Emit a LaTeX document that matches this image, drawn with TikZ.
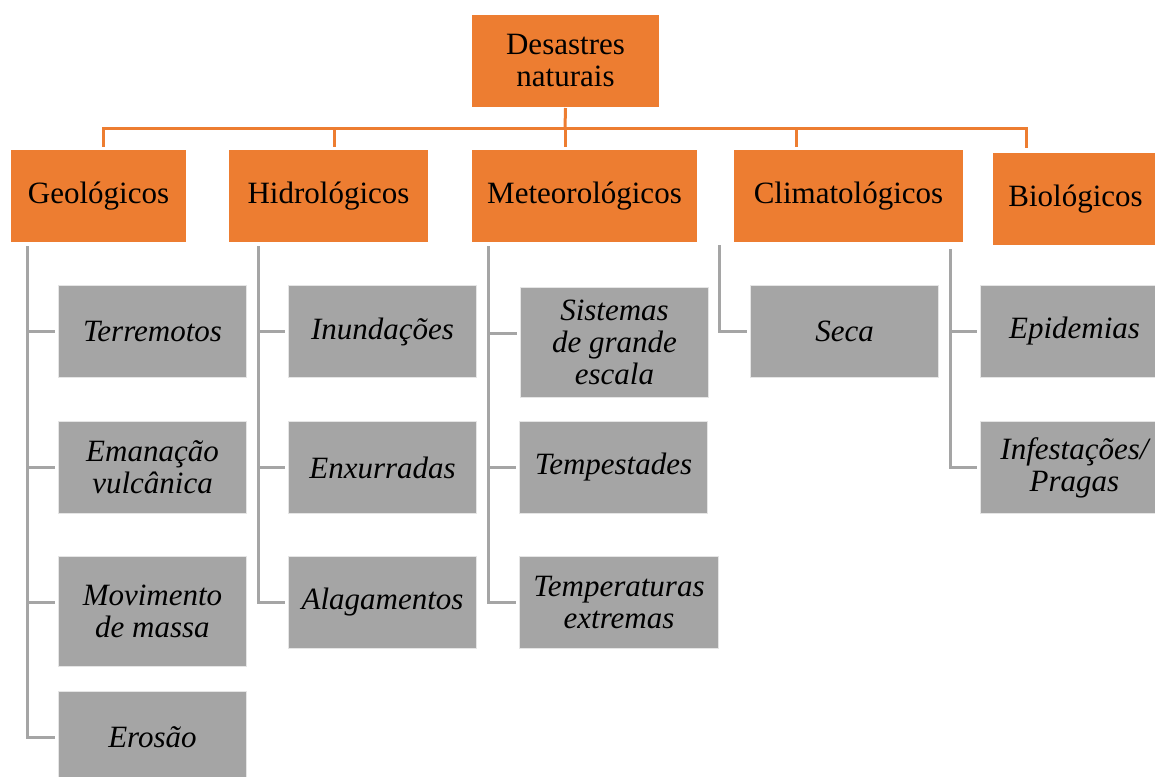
\documentclass[tikz,border=0pt]{standalone}
\usepackage{fontspec}
\setmainfont{Liberation Serif}
\usetikzlibrary{positioning}

\definecolor{officeOrange}{HTML}{ED7D31}
\definecolor{officeGray}{HTML}{A5A5A5}

\begin{document}
\begin{tikzpicture}[
    x=1pt, y=-1pt,
    font=\fontsize{31pt}{32pt}\selectfont,
    catBox/.style={
        rectangle,
        draw=white,
        line width=1pt,
        fill=officeOrange,
        anchor=north west,
        align=center,
        inner sep=0pt,
        minimum height=93pt
    },
    itemBox/.style={
        rectangle,
        draw=white!90!black,
        line width=1pt,
        fill=officeGray,
        anchor=north west,
        align=center,
        inner sep=0pt,
        minimum width=188pt,
        minimum height=92pt,
        font=\fontsize{31pt}{32pt}\selectfont\itshape
    },
    busLine/.style={
        draw=officeOrange,
        line width=3pt
    },
    railLine/.style={
        draw=officeGray,
        line width=3pt
    }
]
\useasboundingbox (0,0) rectangle (1155,776);

% ==================== ROOT AND CATEGORIES ====================
\node[catBox, minimum width=188pt] (root) at (471,14) {Desastres\\naturais};

\node[catBox, minimum width=176pt] (geo) at (10,149) {Geológicos};
\node[catBox, minimum width=200pt] (hidro) at (228,149) {Hidrológicos};
\node[catBox, minimum width=226pt] (meteo) at (471,149) {Meteorológicos};
\node[catBox, minimum width=230pt] (clim) at (733,149) {Climatológicos};
\node[catBox, minimum width=166pt] (bio) at (992,152) {Biológicos};

% Orange bus
\coordinate (bus) at (565,128);
\draw[busLine] (root.south) -- (bus);
\draw[busLine] (bus) -| ([xshift=93pt,yshift=2pt]geo.north west);
\draw[busLine] (bus) -| ([xshift=106pt,yshift=2pt]hidro.north west);
\draw[busLine] (bus) -- ([xshift=94pt,yshift=2pt]meteo.north west);
\draw[busLine] (bus) -| ([xshift=63pt,yshift=2pt]clim.north west);
\draw[busLine] (bus) -| ([xshift=34pt,yshift=4pt]bio.north west);

% ==================== SUBTYPES ====================
\node[itemBox] (terr) at (58,285) {Terremotos};
\node[itemBox] (eman) at (58,421) {Emanação\\vulcânica};
\node[itemBox, minimum height=110pt] (movi) at (58,556) {Movimento\\de massa};
\node[itemBox] (eros) at (58,691) {Erosão};

\node[itemBox] (inun) at (288,285) {Inundações};
\node[itemBox] (enxu) at (288,421) {Enxurradas};
\node[itemBox] (alag) at (288,556) {Alagamentos};

\node[itemBox, minimum height=110pt] (sist) at (520,287) {Sistemas\\de grande\\escala};
\node[itemBox] (temp) at (519,421) {Tempestades};
\node[itemBox, minimum width=199pt] (tmpx) at (519,556) {Temperaturas\\extremas};

\node[itemBox] (seca) at (750,285) {Seca};

\node[itemBox] (epid) at (980,285) {Epidemias};
\node[itemBox] (infe) at (980,421) {Infestações/\\Pragas};

% Gray rails
\coordinate (geoRail) at ([xshift=17pt,yshift=-3pt]geo.south west);
\coordinate (hidroRail) at ([xshift=30pt,yshift=-3pt]hidro.south west);
\coordinate (meteoRail) at ([xshift=17pt,yshift=-3pt]meteo.south west);
\coordinate (climRail) at ([xshift=-14pt,yshift=-2pt]clim.south west);
\coordinate (bioRail) at ([xshift=-42pt,yshift=-3pt]bio.south west);

\foreach \kid in {terr,eman,movi,eros}
    \draw[railLine] (geoRail) |- ([xshift=-3pt,yshift=-46pt]\kid.north west);
\foreach \kid in {inun,enxu,alag}
    \draw[railLine] (hidroRail) |- ([xshift=-3pt,yshift=-46pt]\kid.north west);
\foreach \kid in {sist,temp,tmpx}
    \draw[railLine] (meteoRail) |- ([xshift=-3pt,yshift=-46pt]\kid.north west);
\draw[railLine] (climRail) |- ([xshift=-3pt,yshift=-46pt]seca.north west);
\foreach \kid in {epid,infe}
    \draw[railLine] (bioRail) |- ([xshift=-3pt,yshift=-46pt]\kid.north west);

\end{tikzpicture}
\end{document}
